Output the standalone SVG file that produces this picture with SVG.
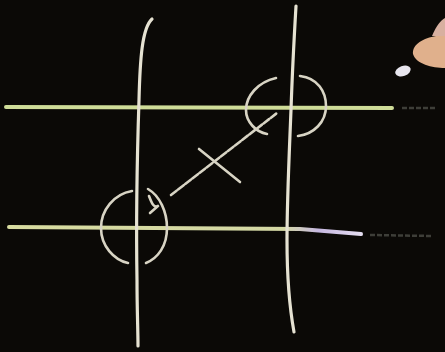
<svg xmlns="http://www.w3.org/2000/svg" width="445" height="352" viewBox="0 0 445 352">
<defs>
<style>
.chalk{fill:none;stroke:#e6e2d2;stroke-width:3.2;stroke-linecap:round}
.thin{fill:none;stroke:#d8d4c4;stroke-width:2.6;stroke-linecap:round}
.green{fill:none;stroke:#cfdc98;stroke-width:4;stroke-linecap:round}
.faint{fill:none;stroke:#3e3e38;stroke-width:2.5;stroke-dasharray:5 2}
</style>
<linearGradient id="bot" x1="0" y1="0" x2="1" y2="0">
<stop offset="0" stop-color="#d8dca0"/>
<stop offset="0.78" stop-color="#d4d8a4"/>
<stop offset="0.88" stop-color="#c6b8e0"/>
<stop offset="1" stop-color="#e4dcf0"/>
</linearGradient>
</defs>
<rect width="445" height="352" fill="#0b0906"/>
<g id="horizontals">
<path class="green" d="M6,107 L392,108"/>
<path class="faint" d="M402,108 L436,108"/>
<path fill="none" stroke="url(#bot)" stroke-width="4" stroke-linecap="round" d="M9,227 L300,229 L361,234"/>
<path class="faint" d="M370,235 L432,236"/>
</g>
<g id="verticals">
<path class="chalk" d="M152,19 C142,28 140,60 139,100 C137,160 136,220 137,280 C137,310 138,330 138,346"/>
<path class="chalk" d="M296,6 C294,40 292,80 291,110 C289,160 287,200 287,240 C287,280 290,310 294,332"/>
</g>
<g id="circle-top">
<path class="thin" d="M276,78 C258,82 246,96 246,110 C246,122 256,132 267,134"/>
<path class="thin" d="M300,76 C318,78 326,92 326,106 C326,122 314,134 298,136"/>
</g>
<g id="circle-bottom">
<path class="thin" d="M132,191 C114,194 101,210 101,228 C101,246 114,260 128,263"/>
<path class="thin" d="M148,189 C160,196 167,212 167,228 C167,246 158,258 146,263"/>
<path class="thin" d="M149,196 C152,204 154,208 158,206 M158,206 L150,213"/>
</g>
<g id="diagonal">
<path class="thin" stroke-dasharray="7 2" d="M171,195 L277,113"/>
<path class="thin" d="M199,149 L240,182"/>
</g>
<g id="hand">
<path d="M413,54 C412,44 424,38 436,36 L445,34 L445,68 C432,68 416,64 413,54 Z" fill="#e0b08c"/>
<path d="M432,36 C436,26 441,20 445,18 L445,36 Z" fill="#d8b0a0"/>
<ellipse cx="403" cy="71" rx="8" ry="5" transform="rotate(-20 403 71)" fill="#e8e6ee"/>
</g>
</svg>
